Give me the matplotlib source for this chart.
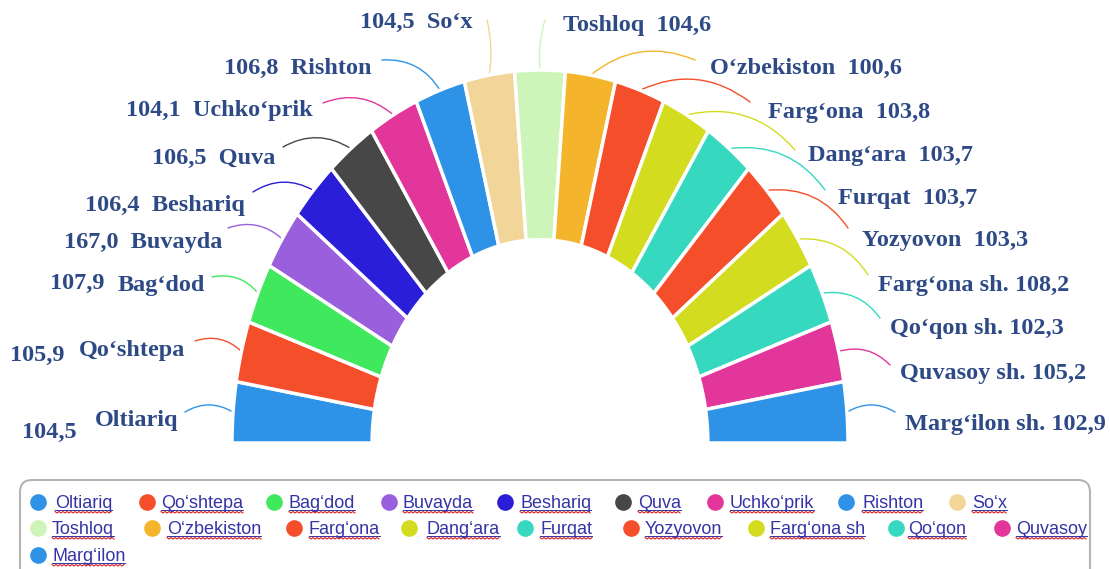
import matplotlib
matplotlib.use('Agg')
import matplotlib.pyplot as plt
import numpy as np
from matplotlib.patches import FancyBboxPatch

# ---------------- data ----------------
districts = ["Oltiariq", "Qo‘shtepa", "Bag‘dod", "Buvayda", "Beshariq", "Quva",
             "Uchko‘prik", "Rishton", "So‘x", "Toshloq", "O‘zbekiston", "Farg‘ona",
             "Dang‘ara", "Furqat", "Yozyovon", "Farg‘ona sh.", "Qo‘qon sh.",
             "Quvasoy sh.", "Marg‘ilon sh."]
legend_names = ["Oltiariq", "Qo‘shtepa", "Bag‘dod", "Buvayda", "Beshariq", "Quva",
                "Uchko‘prik", "Rishton", "So‘x", "Toshloq", "O‘zbekiston", "Farg‘ona",
                "Dang‘ara", "Furqat", "Yozyovon", "Farg‘ona sh", "Qo‘qon",
                "Quvasoy", "Marg‘ilon"]
index_values = [104.5, 105.9, 107.9, 167.0, 106.4, 106.5, 104.1, 106.8, 104.5,
                104.6, 100.6, 103.8, 103.7, 103.7, 103.3, 108.2, 102.3, 105.2, 102.9]
segment_weights = [1] * len(districts)
colors = ['#2e93e6', '#f54e2a', '#3fe85c', '#9a5fdc', '#2a1ed8', '#474747',
          '#e2369a', '#2e93e6', '#f2d699', '#cdf5b9', '#f4b52c', '#f54e2a',
          '#d4dc20', '#36d8bf', '#f54e2a', '#d4dc20', '#36d8bf', '#e2369a', '#2e93e6']

# ---------------- layout (pixels) ----------------
W, H = 1110, 569
CX, CY, RX, RY = 540, 443, 308, 373
label_pos = [(178, 420, 'right'), (185, 350, 'right'), (205, 285, 'right'),
             (222, 242, 'right'), (245, 205, 'right'), (275, 158, 'right'),
             (313, 110, 'right'), (372, 68, 'right'), (472, 22, 'right'),
             (563, 25, 'left'), (710, 68, 'left'), (768, 112, 'left'),
             (808, 155, 'left'), (838, 198, 'left'), (862, 240, 'left'),
             (878, 285, 'left'), (890, 328, 'left'), (900, 373, 'left'),
             (905, 424, 'left')]
number_pos = {0: (22, 432), 1: (10, 355), 2: (50, 283)}
leader_start = [(185, 412), (195, 341), (212, 277), (228, 228), (253, 192),
                (283, 147), (323, 103), (382, 60), (487, 20), (545, 20),
                (695, 60), (750, 102), (795, 150), (825, 190), (848, 228),
                (868, 275), (880, 318), (890, 365), (895, 412)]
leg_rows_y = [502, 528, 555]
leg_marker_x = [[38, 147, 274, 389, 505, 623, 715, 846, 957],
                [38, 152, 294, 409, 525, 631, 756, 896, 1002],
                [38]]
leg_label_x = [[55, 161, 289, 403, 520, 638, 730, 862, 972],
               [52, 167, 309, 427, 540, 645, 770, 908, 1016],
               [52]]

label_color = '#2e4a86'
serif = ['Liberation Serif', 'DejaVu Serif']

fig = plt.figure(figsize=(W / 100, H / 100), dpi=100)
ax = fig.add_axes([0, 0, 1, 1])
ax.set_xlim(0, W)
ax.set_ylim(H, 0)
ax.axis('off')

# pie axes, stretched vertically like the reference
m = 1.1
ax_pie = fig.add_axes([(CX - m * RX) / W, (H - CY - 0.1 * RY) / H,
                       2 * m * RX / W, 1.2 * RY / H])
wedges, _ = ax_pie.pie(segment_weights + [sum(segment_weights)],
                       colors=colors + ['none'], startangle=180, counterclock=False,
                       radius=1.0,
                       wedgeprops=dict(width=0.455, edgecolor='white', linewidth=2.5))
wedges[-1].set_visible(False)
ax_pie.set_aspect('auto')
ax_pie.set_xlim(-m, m)
ax_pie.set_ylim(-0.1, 1.1)
ax_pie.axis('off')
ax_pie.patch.set_visible(False)

for i, (name, val) in enumerate(zip(districts, index_values)):
    vs = f"{val:.1f}".replace('.', ',')
    x, y, ha = label_pos[i]
    sep = ' ' if name.endswith('sh.') else '  '
    if i in number_pos:
        txt = name
        nx, ny = number_pos[i]
        ax.text(nx, ny, vs, ha='left', va='center', fontsize=17.5, fontweight='bold',
                color=label_color, family=serif)
    elif ha == 'right':
        txt = f"{vs}{sep}{name}"
    else:
        txt = f"{name}{sep}{vs}"
    ax.text(x, y, txt, ha=ha, va='center', fontsize=17.5, fontweight='bold',
            color=label_color, family=serif)
    # leader line to wedge midpoint
    w = wedges[i]
    th = np.deg2rad((w.theta1 + w.theta2) / 2)
    if i < 8:
        rad = -0.3
    elif i in (8, 9):
        rad = 0.1 if i == 9 else -0.1
    else:
        rad = 0.3
    ax.annotate('', xy=(np.cos(th), np.sin(th)), xycoords=ax_pie.transData,
                xytext=leader_start[i], textcoords='data',
                arrowprops=dict(arrowstyle='-', color=colors[i], lw=1.0,
                                shrinkA=0, shrinkB=0,
                                connectionstyle=f"arc3,rad={rad}"))

# legend box
box = FancyBboxPatch((20, 480), 1070, 130, boxstyle="round,pad=0,rounding_size=12",
                     facecolor='white', edgecolor='#b5b5b5', lw=1.5, clip_on=False)
ax.add_patch(box)

leg_texts = []
k = 0
for r, y in enumerate(leg_rows_y):
    for mx, lx in zip(leg_marker_x[r], leg_label_x[r]):
        ax.plot([mx], [y], 'o', ms=12, color=colors[k], mec='none')
        t = ax.text(lx, y + 6, legend_names[k], ha='left', va='baseline', fontsize=13,
                    color='#3434a8', family=['Liberation Sans', 'DejaVu Sans'])
        leg_texts.append((t, y + 6))
        k += 1

fig.canvas.draw()
renderer = fig.canvas.get_renderer()
inv = ax.transData.inverted()
for t, base in leg_texts:
    bb = t.get_window_extent(renderer)
    (x0, _), (x1, _) = inv.transform([(bb.x0, bb.y0), (bb.x1, bb.y1)])
    ax.plot([x0, x1], [base + 1.5, base + 1.5], color='#3434a8', lw=0.7)
    zx = np.arange(x0, x1 + 0.1, 2.0)
    zy = base + 3.5 + 1.5 * (np.arange(len(zx)) % 2)
    ax.plot(zx, zy, color='#e02020', lw=0.8)

fig.savefig('out.png', dpi=100)
